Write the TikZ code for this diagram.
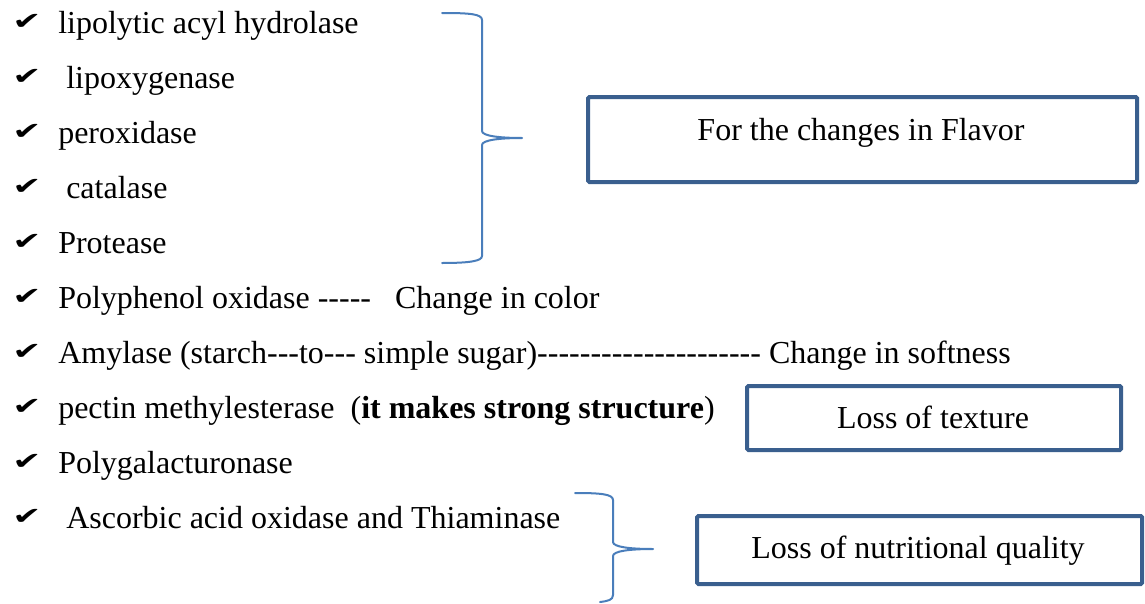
\documentclass[tikz,border=0pt]{standalone}
\usepackage{fontspec}
\setmainfont{Liberation Serif}
\newfontfamily\itemfont{Liberation Serif}
\newfontfamily\symfont{DejaVu Sans}
\definecolor{boxblue}{HTML}{3A5F8E}
\definecolor{braceblue}{HTML}{4A7EBB}
\begin{document}
\begin{tikzpicture}[x=0.75pt,y=-0.75pt,
  item/.style={anchor=base west,inner sep=0pt,font=\itemfont\fontsize{24}{28}\selectfont},
  tick/.style={anchor=base west,inner sep=0pt,font=\symfont\fontsize{18}{22}\selectfont},
  boxtext/.style={anchor=base,inner sep=0pt,font=\itemfont\fontsize{24}{28}\selectfont},
  resbox/.style={draw=boxblue,line width=3pt,rounded corners=1pt,inner sep=0pt},
  brace/.style={draw=braceblue,line width=1.5pt,line cap=round,line join=round}]
\useasboundingbox (0,0) rectangle (1145,603);
% check marks
\foreach \i/\b in {1/33,2/88,3/143,4/198,5/253,6/308,7/363,8/418,9/473,10/528}
  \node[tick] (c\i) at (12,\b-4) {\scalebox{1.45}[1.0]{✔}};
% items
\node[item] (t1) at (58,33) {lipolytic acyl hydrolase};
\node[item] (t2) at (66,88) {lipoxygenase};
\node[item] (t3) at (58,143) {peroxidase};
\node[item] (t4) at (66,198) {catalase};
\node[item] (t5) at (58,253) {Protease};
\node[item] (t6) at (58,308) {Polyphenol oxidase -----\ \ \ Change in color};
\node[item] (t7) at (58,363) {Amylase (starch---to--- simple sugar)--------------------- Change in softness};
\node[item] (t8) at (58,418) {pectin methylesterase\ \ (\textbf{it makes strong structure})};
\node[item] (t9) at (58,473) {Polygalacturonase};
\node[item] (t10) at (66,528) {Ascorbic acid oxidase and Thiaminase};
% boxes
\node[resbox,minimum width=549*0.75pt,minimum height=85*0.75pt] (flavor) at (862.5,139.5) {};
\node[boxtext] (flavortext) at (861,140) {For the changes in Flavor};
\node[resbox,minimum width=374*0.75pt,minimum height=64*0.75pt] (texture) at (934,418) {};
\node[boxtext] (texturetext) at (933,428) {Loss of texture};
\node[resbox,minimum width=445*0.75pt,minimum height=68*0.75pt] (nutri) at (919.5,550) {};
\node[boxtext] (nutritext) at (918,558) {Loss of nutritional quality};
% braces
\coordinate (b1tip) at (522,138);
\coordinate (b2tip) at (653,549);
\draw[brace] (442,13) .. controls (470,13) and (482,14) .. (482,20) -- (482,131)
  .. controls (482,136) and (500,138) .. (b1tip)
  .. controls (500,138) and (482,140) .. (482,145) -- (482,256)
  .. controls (482,261) and (470,263) .. (442,263);
\draw[brace] (575,493) .. controls (600,493) and (613,494) .. (613,500) -- (613,542)
  .. controls (613,547) and (630,549) .. (b2tip)
  .. controls (630,549) and (613,551) .. (613,556) -- (613,595)
  .. controls (613,600) and (608,601) .. (600,602);
\end{tikzpicture}
\end{document}
